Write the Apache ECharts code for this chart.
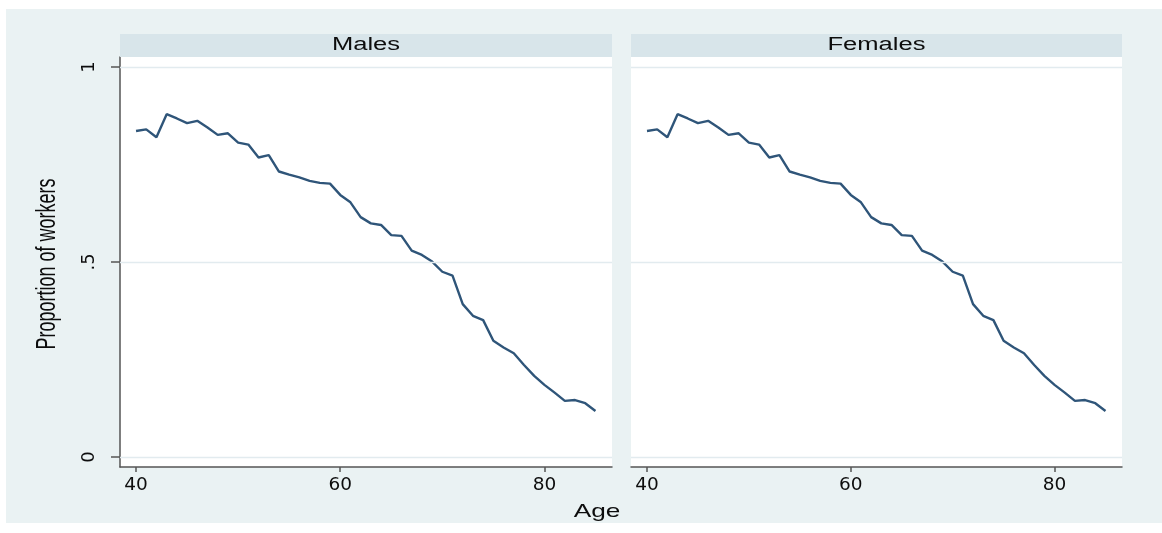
<!DOCTYPE html>
<html>
<head>
<meta charset="utf-8">
<script src="https://cdn.jsdelivr.net/npm/echarts@6/dist/echarts.min.js"></script>
<style>html,body{margin:0;padding:0;background:#fff}#c{width:1162px;height:533px}</style>
</head>
<body>
<div id="c"></div>
<script>
var panels = ['Males', 'Females'];
var ages = [40,41,42,43,44,45,46,47,48,49,50,51,52,53,54,55,56,57,58,59,60,61,62,63,64,65,66,67,68,69,70,71,72,73,74,75,76,77,78,79,80,81,82,83,84,85];
var malesShare = [0.836,0.840,0.820,0.879,0.868,0.856,0.862,0.845,0.826,0.830,0.806,0.801,0.768,0.774,0.732,0.724,0.717,0.708,0.703,0.701,0.672,0.653,0.615,0.599,0.595,0.569,0.567,0.529,0.518,0.501,0.475,0.465,0.392,0.362,0.351,0.298,0.281,0.266,0.236,0.208,0.185,0.165,0.144,0.146,0.138,0.118];
var femalesShare = [0.836,0.840,0.820,0.879,0.868,0.856,0.862,0.845,0.826,0.830,0.806,0.801,0.768,0.774,0.732,0.724,0.717,0.708,0.703,0.701,0.672,0.653,0.615,0.599,0.595,0.569,0.567,0.529,0.518,0.501,0.475,0.465,0.392,0.362,0.351,0.298,0.281,0.266,0.236,0.208,0.185,0.165,0.144,0.146,0.138,0.118];
var xTicks = [40, 60, 80];
var yTicks = [0, 0.5, 1];
var yTickLabels = {'0': '0', '0.5': '.5', '1': '1'};

function pairs(vals) { return ages.map(function (a, i) { return [a, vals[i]]; }); }

var lineColor = '#2f5579';
var axisColor = '#555';
var gridLineColor = '#e2ebef';
var stripColor = '#d8e5ea';
var textColor = '#0d0d0d';

var grids = [
  {left: 120, width: 492, top: 57, height: 410, show: true, backgroundColor: '#fff', borderWidth: 0},
  {left: 631, width: 491, top: 57, height: 410, show: true, backgroundColor: '#fff', borderWidth: 0}
];

function xAxis(i) {
  return {
    type: 'value', gridIndex: i, min: 38.43, max: 86.62,
    axisLine: {show: true, onZero: false, lineStyle: {color: axisColor, width: 1.5}},
    axisTick: {show: true, length: 5, customValues: xTicks, lineStyle: {color: axisColor, width: 1.5}},
    axisLabel: {show: true, customValues: xTicks, margin: 9, color: textColor, fontFamily: 'DejaVu Sans', fontSize: 18.5},
    splitLine: {show: false}
  };
}
function yAxis(i) {
  var vis = i === 0;
  return {
    type: 'value', gridIndex: i, min: -0.0256, max: 1.0256,
    axisLine: {show: vis, onZero: false, lineStyle: {color: axisColor, width: 1.5}},
    axisTick: {show: vis, length: 9, customValues: yTicks, lineStyle: {color: axisColor, width: 1.5}},
    axisLabel: {show: vis, customValues: yTicks, rotate: 90, margin: 22, color: textColor, fontFamily: 'DejaVu Sans', fontSize: 18,
      formatter: function (v) { return yTickLabels[String(v)]; }},
    splitLine: {show: false}
  };
}

function series(i, vals) {
  return {
    type: 'line', xAxisIndex: i, yAxisIndex: i, data: pairs(vals),
    showSymbol: false, symbol: 'none', animation: false,
    lineStyle: {color: lineColor, width: 2.4},
    markLine: {
      silent: true, symbol: 'none', animation: false,
      label: {show: false},
      lineStyle: {color: gridLineColor, type: 'solid', width: 1.3},
      data: yTicks.map(function (t) { return {yAxis: t}; })
    },
    z: 3
  };
}

function stretchedText(txt, x, y, size, sx, sy, rot) {
  return {
    type: 'text', x: x, y: y, rotation: rot || 0, scaleX: sx, scaleY: sy, z: 10,
    style: {text: txt, fill: textColor, font: size + 'px "Liberation Sans", Arial, sans-serif', align: 'center', verticalAlign: 'middle'}
  };
}

var option = {
  backgroundColor: '#eaf2f3',
  animation: false,
  grid: grids,
  xAxis: [xAxis(0), xAxis(1)],
  yAxis: [yAxis(0), yAxis(1)],
  series: [series(0, malesShare), series(1, femalesShare)],
  graphic: [
    {type: 'rect', shape: {x: 0, y: 0, width: 1162, height: 9}, style: {fill: '#fff'}, z: 1},
    {type: 'rect', shape: {x: 0, y: 0, width: 6, height: 533}, style: {fill: '#fff'}, z: 1},
    {type: 'rect', shape: {x: 0, y: 523, width: 1162, height: 10}, style: {fill: '#fff'}, z: 1},
    {type: 'rect', shape: {x: 120, y: 34, width: 492, height: 23}, style: {fill: stripColor}, z: 1},
    {type: 'rect', shape: {x: 631, y: 34, width: 491, height: 23}, style: {fill: stripColor}, z: 1},
    stretchedText(panels[0], 366, 45.5, 18, 1.42, 1),
    stretchedText(panels[1], 876.5, 45.5, 18, 1.42, 1),
    stretchedText('Age', 597, 512, 19, 1.38, 1),
    stretchedText('Proportion of workers', 48, 264, 18, 1, 1.5, Math.PI / 2)
  ]
};

var chart = echarts.init(document.getElementById('c'), null, {renderer: 'canvas'});
chart.setOption(option);
</script>
</body>
</html>
